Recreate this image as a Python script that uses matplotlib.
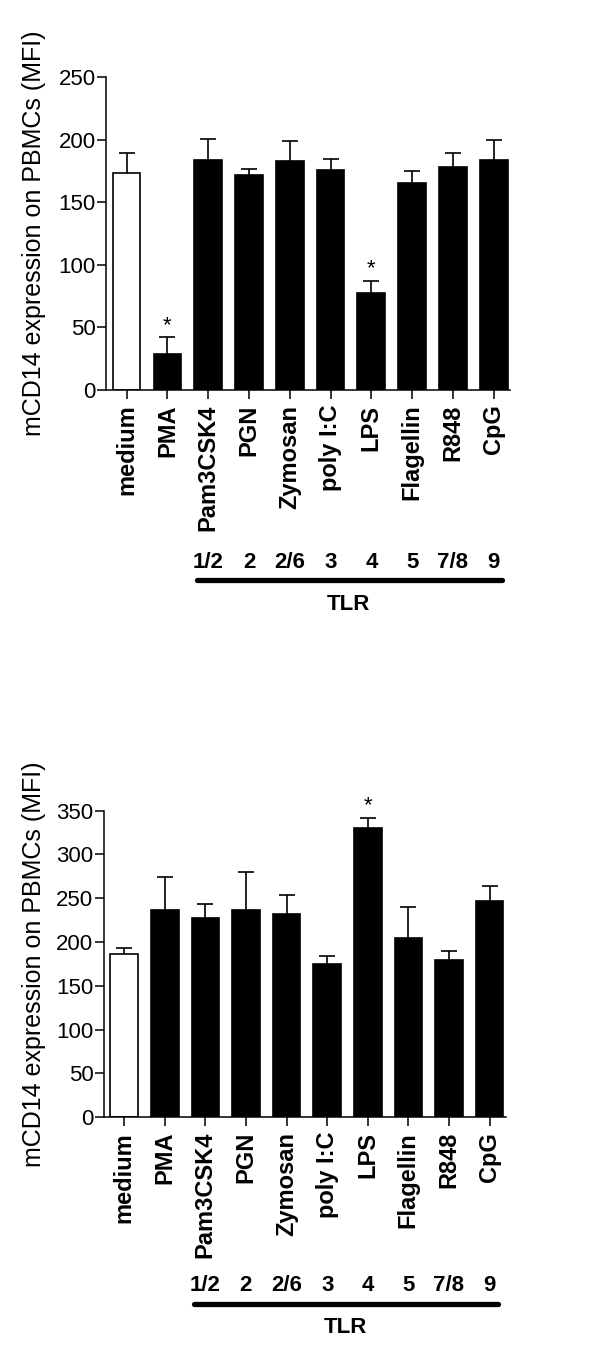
import matplotlib
matplotlib.use('Agg')
import matplotlib.pyplot as plt
import numpy as np

plt.rcParams['font.family'] = ['Liberation Sans', 'DejaVu Sans']

# --- Data ---
categories = ['medium', 'PMA', 'Pam3CSK4', 'PGN', 'Zymosan', 'poly I:C',
              'LPS', 'Flagellin', 'R848', 'CpG']
tlr_labels = ['1/2', '2', '2/6', '3', '4', '5', '7/8', '9']

top_means = [173, 29, 184, 172, 183, 175.5, 77.5, 165, 178, 184]
top_err = [16, 13, 16.5, 4.5, 16, 9, 9.5, 9.5, 11, 16]
top_stars = [1, 6]

bot_means = [186, 236.5, 227.5, 236.5, 232.5, 175.5, 330, 205, 179, 247]
bot_err = [7, 38, 16, 43.5, 21, 8.5, 12, 34.5, 10.5, 16.5]
bot_stars = [6]

ylabel = 'mCD14 expression on PBMCs (MFI)'


def draw_panel(ax, means, err, stars, ymax, step, label_x):
    x = np.arange(len(categories))
    colors = ['white'] + ['black'] * (len(categories) - 1)
    ax.bar(x, means, width=0.68, color=colors, edgecolor='black', linewidth=1.2, zorder=2)
    eb = ax.errorbar(x, means, yerr=[np.zeros(len(means)), err], fmt='none',
                     ecolor='black', elinewidth=1.2, capsize=6, capthick=1.2, zorder=3)
    eb[1][0].set_visible(False)  # hide the lower caps
    for i in stars:
        ax.annotate('*', (x[i], means[i] + err[i]), xytext=(0, 1),
                    textcoords='offset points', ha='center', va='bottom', fontsize=16)

    ax.set_ylim(0, ymax)
    ax.set_xlim(-0.5, 9.4)
    ax.set_yticks(np.arange(0, ymax + 1, step))
    ax.set_xticks(x)
    ax.set_xticklabels(categories, rotation=90, fontweight='bold')
    ax.tick_params(axis='both', direction='out', length=6.5, width=1.1)
    ax.tick_params(axis='y', labelsize=16, pad=1)
    ax.tick_params(axis='x', labelsize=17, pad=4)
    for s in ['top', 'right']:
        ax.spines[s].set_visible(False)
    for s in ['left', 'bottom']:
        ax.spines[s].set_linewidth(1.1)
    ax.set_ylabel(ylabel, fontsize=18)
    ax.yaxis.set_label_coords(label_x, 0.5)

    # TLR annotation below the labels
    trans = ax.get_xaxis_transform()
    for i, lab in enumerate(tlr_labels):
        ax.text(x[i + 2], -0.55, lab, transform=trans, ha='center', va='center',
                fontsize=16, fontweight='bold')
    ax.plot([1.72, 9.2], [-0.608, -0.608], transform=trans, color='black',
            linewidth=3.8, solid_capstyle='round', clip_on=False)
    ax.text(5.45, -0.685, 'TLR', transform=trans, ha='center', va='center',
            fontsize=16, fontweight='bold')


fig = plt.figure(figsize=(6, 13.5), dpi=100)
ax1 = fig.add_axes([0.177, 0.7111, 0.673, 0.2319])
ax2 = fig.add_axes([0.173, 0.1724, 0.670, 0.2271])

draw_panel(ax1, top_means, top_err, top_stars, 250, 50, -0.148)
draw_panel(ax2, bot_means, bot_err, bot_stars, 350, 50, -0.144)

fig.savefig('out.png', dpi=100)
